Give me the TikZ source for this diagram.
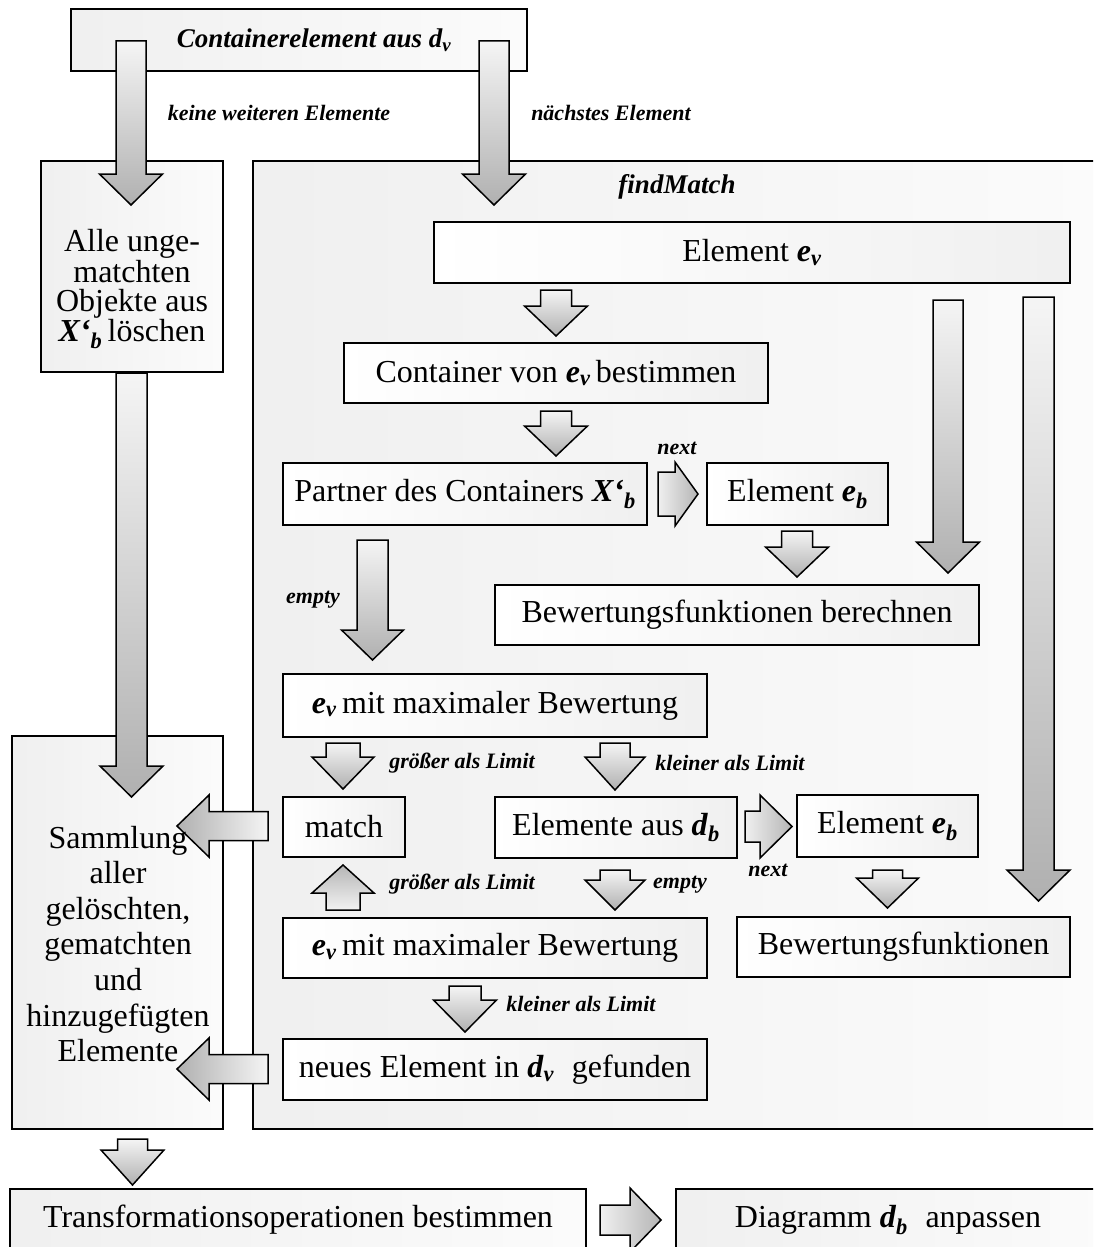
\documentclass[tikz,border=0pt]{standalone}
\usepackage{fontspec}
\setmainfont{Liberation Serif}
\usetikzlibrary{calc}

% variable with italic subscript, e.g. e_v
\newcommand\mvar[2]{\textbf{\textit{#1}\textsubscript{\textit{#2}}}}

% block arrow: [style]{from}{tip}{shaft half width}{head half width}{head length}
\newcommand\blockarrow[6][]{%
  \path[barrow,#1]
    ($(#2)!#4!90:(#3)$) --
    ($($(#3)!#6!(#2)$)!#4!90:(#3)$) --
    ($($(#3)!#6!(#2)$)!#5!90:(#3)$) --
    (#3) --
    ($($(#3)!#6!(#2)$)!#5!-90:(#3)$) --
    ($($(#3)!#6!(#2)$)!#4!-90:(#3)$) --
    ($(#2)!#4!-90:(#3)$) -- cycle;}

\begin{document}
\begin{tikzpicture}[x=1pt,y=-1pt,
  frame/.style={draw=black, line width=1.6pt, left color=gray!12, right color=gray!3, inner sep=0pt},
  inbox/.style={draw=black, line width=1.6pt, left color=white, right color=gray!12, inner sep=0pt,
                font=\fontsize{32}{36}\selectfont},
  boxtext/.style={inner sep=0pt, align=center},
  lbl/.style={inner sep=0pt, font=\fontsize{22}{24}\selectfont\bfseries\itshape},
  barrow/.style={draw=black, line width=1.5pt, line join=miter},
  adown/.style={top color=gray!8, bottom color=gray!62},
  aup/.style={bottom color=gray!10, top color=gray!58},
  aleft/.style={right color=gray!8, left color=gray!62},
  aright/.style={left color=gray!12, right color=gray!58},
]
\useasboundingbox (0,0) rectangle (1093,1247);
\clip (0,0) rectangle (1093,1247);

% ---------- outer frames ----------
\node[frame, minimum width=456pt, minimum height=62pt,
      font=\fontsize{27}{30}\selectfont\bfseries\itshape] (top) at (299,40)
      {\hspace*{30pt}Containerelement aus d\textsubscript{v}};
\node[frame, minimum width=182pt, minimum height=211pt] (alle) at (132,266.5) {};
\node[boxtext, font=\fontsize{32}{29}\selectfont] (alletxt) at (132,289)
      {Alle unge-\\matchten\\Objekte aus\\\mvar{X‘}{b}\,löschen};
\node[frame, minimum width=860pt, minimum height=968pt] (fm) at (683,645) {};
\node[lbl, font=\fontsize{27}{30}\selectfont\bfseries\itshape] (fmlbl) at (677,187) {findMatch};
\node[frame, minimum width=211pt, minimum height=393pt] (samm) at (117.5,932.5) {};
\node[frame, minimum width=576pt, minimum height=62pt, font=\fontsize{32}{36}\selectfont] (trans) at (298,1220)
      {Transformationsoperationen bestimmen};
\node[frame, minimum width=437pt, minimum height=62pt, font=\fontsize{32}{36}\selectfont] (diag) at (894.5,1220)
      {\hspace*{-13pt}Diagramm \mvar{d}{b}\hspace{0.3em} anpassen};

% ---------- boxes inside findMatch ----------
\node[inbox, minimum width=636pt, minimum height=61pt] (ev) at (752,252.5) {Element \mvar{e}{v}};
\node[inbox, minimum width=424pt, minimum height=60pt] (cont) at (556,373) {Container von \mvar{e}{v}\,bestimmen};
\node[inbox, minimum width=364pt, minimum height=62pt] (partner) at (465,494) {Partner des Containers \mvar{X‘}{b}};
\node[inbox, minimum width=181pt, minimum height=62pt] (eb1) at (797.5,494) {Element \mvar{e}{b}};
\node[inbox, minimum width=484pt, minimum height=60pt] (bewber) at (737,615) {Bewertungsfunktionen berechnen};
\node[inbox, minimum width=424pt, minimum height=63pt] (evmax1) at (495,705.5) {\mvar{e}{v}\,mit maximaler Bewertung};
\node[inbox, minimum width=122pt, minimum height=60pt] (match) at (344,827) {match};
\node[inbox, minimum width=242pt, minimum height=61pt] (elemdb) at (616,827.5) {Elemente aus \mvar{d}{b}};
\node[inbox, minimum width=181pt, minimum height=62pt] (eb2) at (887.5,826) {Element \mvar{e}{b}};
\node[inbox, minimum width=424pt, minimum height=60pt] (evmax2) at (495,948) {\mvar{e}{v}\,mit maximaler Bewertung};
\node[inbox, minimum width=333pt, minimum height=60pt] (bewfn) at (903.5,947) {Bewertungsfunktionen};
\node[inbox, minimum width=424pt, minimum height=61pt] (neues) at (495,1069.5) {neues Element in \mvar{d}{v}\hspace{0.3em} gefunden};

% ---------- labels ----------
\node[lbl] (l1) at (279,113) {keine weiteren Elemente};
\node[lbl] (l2) at (611,113) {nächstes Element};
\node[lbl] (l3) at (677,448) {next};
\node[lbl] (l4) at (313,600) {empty};
\node[lbl] (l5) at (462,763) {größer als Limit};
\node[lbl] (l6) at (730,763) {kleiner als Limit};
\node[lbl] (l7) at (462,884) {größer als Limit};
\node[lbl] (l8) at (680,885) {empty};
\node[lbl] (l9) at (768,870) {next};
\node[lbl] (l10) at (581,1004) {kleiner als Limit};

% ---------- arrow end points ----------
\coordinate (a1s) at (131,41);     \coordinate (a1e) at (131,205);
\coordinate (a2s) at (494,41);     \coordinate (a2e) at (494,205);
\coordinate (a3s) at (556,290);    \coordinate (a3e) at (556,336);
\coordinate (a4s) at (556,411);    \coordinate (a4e) at (556,456);
\coordinate (a5s) at (658,494);    \coordinate (a5e) at (698,494);
\coordinate (a6s) at (797,531);    \coordinate (a6e) at (797,577);
\coordinate (a7s) at (948,300);    \coordinate (a7e) at (948,573);
\coordinate (a8s) at (1038.5,297); \coordinate (a8e) at (1038.5,901);
\coordinate (a9s) at (372.5,540);  \coordinate (a9e) at (372.5,660);
\coordinate (a10s) at (343,743);   \coordinate (a10e) at (343,789);
\coordinate (a11s) at (615,743);   \coordinate (a11e) at (615,790);
\coordinate (a12s) at (343,910);   \coordinate (a12e) at (343,865);
\coordinate (a13s) at (615,870);   \coordinate (a13e) at (615,910);
\coordinate (a14s) at (745,826.5); \coordinate (a14e) at (792,826.5);
\coordinate (a15s) at (887.5,870); \coordinate (a15e) at (887.5,908);
\coordinate (a16s) at (465,986);   \coordinate (a16e) at (465,1032);
\coordinate (a17s) at (268,826);   \coordinate (a17e) at (177,826);
\coordinate (a18s) at (268,1069);  \coordinate (a18e) at (177,1069);
\coordinate (a19s) at (131.5,373); \coordinate (a19e) at (131.5,797);
\coordinate (a20s) at (132.5,1139);\coordinate (a20e) at (132.5,1185);
\coordinate (a21s) at (600,1220);  \coordinate (a21e) at (661,1220);

% ---------- block arrows ----------
\blockarrow[adown]{a1s}{a1e}{15pt}{31.5pt}{31pt}
\blockarrow[adown]{a2s}{a2e}{15pt}{31.5pt}{31pt}
\blockarrow[adown]{a3s}{a3e}{15.5pt}{31.5pt}{30pt}
\blockarrow[adown]{a4s}{a4e}{15.5pt}{31.5pt}{30pt}
\blockarrow[aright]{a5s}{a5e}{22pt}{32pt}{23pt}
\blockarrow[adown]{a6s}{a6e}{15.5pt}{31.5pt}{30pt}
\blockarrow[adown]{a7s}{a7e}{15pt}{31.5pt}{31pt}
\blockarrow[adown]{a8s}{a8e}{15.5pt}{31.5pt}{31pt}
\blockarrow[adown]{a9s}{a9e}{15.5pt}{31pt}{30pt}
\blockarrow[adown]{a10s}{a10e}{17pt}{31pt}{32pt}
\blockarrow[adown]{a11s}{a11e}{15pt}{30pt}{33pt}
\blockarrow[aup]{a12s}{a12e}{17pt}{31pt}{28pt}
\blockarrow[adown]{a13s}{a13e}{15pt}{30pt}{30pt}
\blockarrow[aright]{a14s}{a14e}{15.5pt}{31.5pt}{32pt}
\blockarrow[adown]{a15s}{a15e}{15pt}{31pt}{30pt}
\blockarrow[adown]{a16s}{a16e}{16pt}{31.5pt}{32pt}
\blockarrow[aleft]{a17s}{a17e}{14.5pt}{31pt}{32pt}
\blockarrow[aleft]{a18s}{a18e}{14.5pt}{31pt}{32pt}
\blockarrow[adown]{a19s}{a19e}{15.5pt}{31.5pt}{31pt}
\blockarrow[adown]{a20s}{a20e}{15pt}{31.5pt}{35pt}
\blockarrow[aright]{a21s}{a21e}{15pt}{32pt}{31pt}

% text of the collecting frame, set over the incoming arrow heads
\node[boxtext, font=\fontsize{32}{35.6}\selectfont] (sammtxt) at (118,944)
      {Sammlung\\aller\\gelöschten,\\gematchten\\und\\hinzugefügten\\Elemente};
\end{tikzpicture}
\end{document}
